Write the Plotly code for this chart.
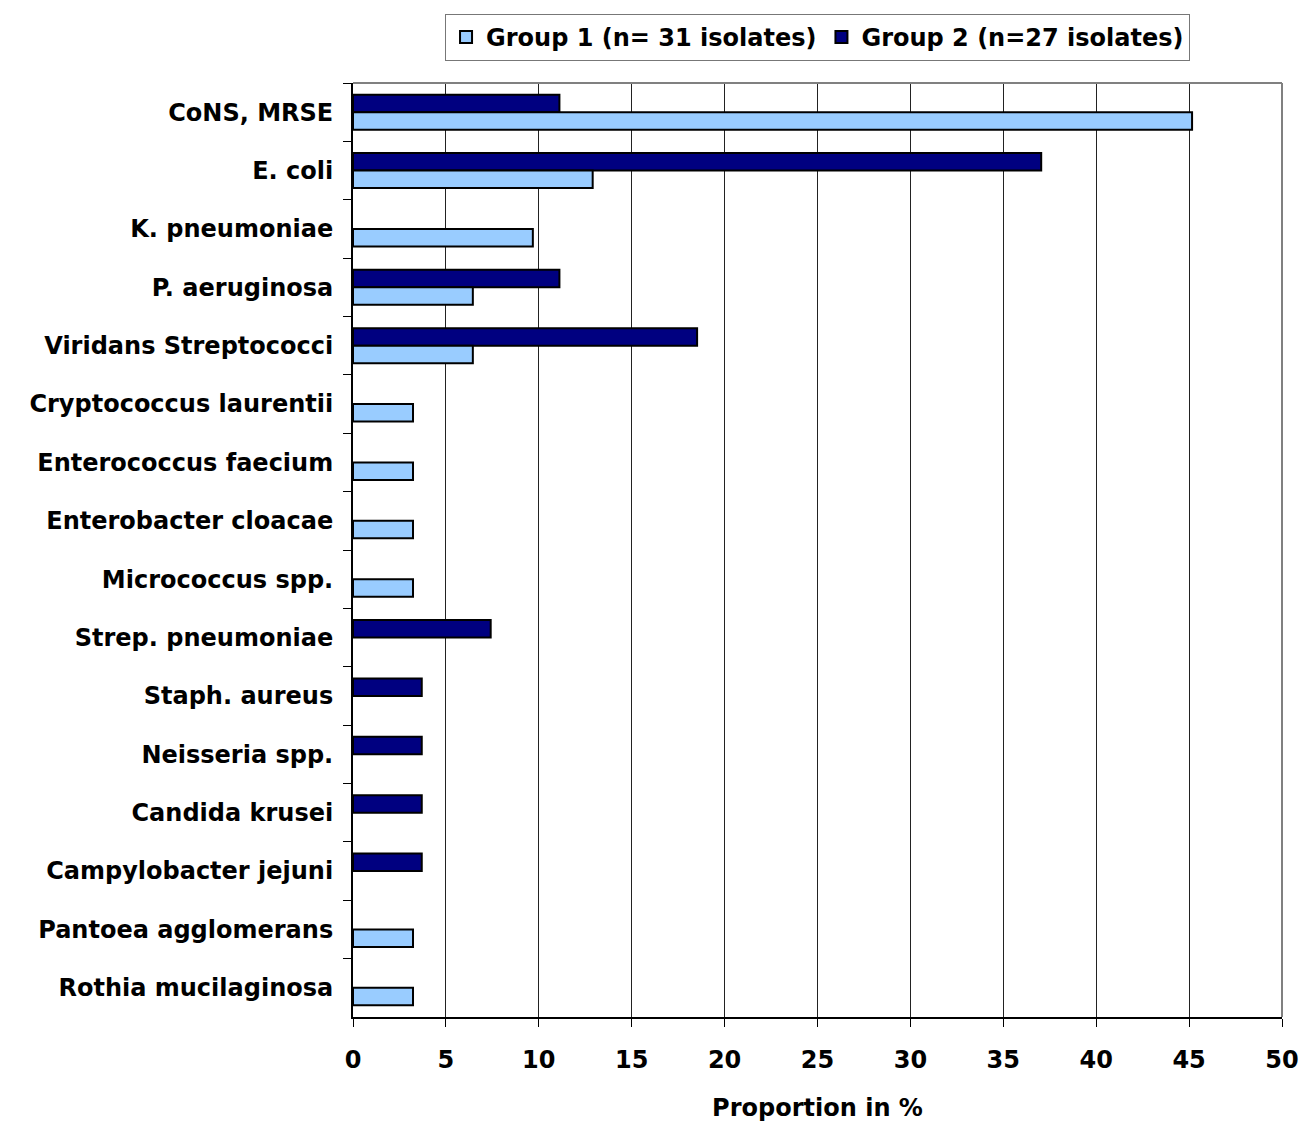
import plotly.graph_objects as go

categories = [
    "CoNS, MRSE", "E. coli", "K. pneumoniae", "P. aeruginosa", "Viridans Streptococci",
    "Cryptococcus laurentii", "Enterococcus faecium", "Enterobacter cloacae",
    "Micrococcus spp.", "Strep. pneumoniae", "Staph. aureus", "Neisseria spp.",
    "Candida krusei", "Campylobacter jejuni", "Pantoea agglomerans", "Rothia mucilaginosa",
]
group1 = [45.16, 12.90, 9.68, 6.45, 6.45, 3.23, 3.23, 3.23, 3.23, 0, 0, 0, 0, 0, 3.23, 3.23]
group2 = [11.11, 37.04, 0, 11.11, 18.52, 0, 0, 0, 0, 7.41, 3.70, 3.70, 3.70, 3.70, 0, 0]
x_ticks = [0, 5, 10, 15, 20, 25, 30, 35, 40, 45, 50]

FONT = "DejaVu Sans, Liberation Sans, Arial, sans-serif"
FS = 24


def nz(vals):
    return [v if v else None for v in vals]


fig = go.Figure()
fig.add_trace(go.Bar(
    y=categories, x=nz(group2), orientation="h", name="Group 2 (n=27 isolates)",
    marker=dict(color="#000080", line=dict(color="black", width=2)), legendrank=2,
))
fig.add_trace(go.Bar(
    y=categories, x=nz(group1), orientation="h", name="Group 1 (n= 31 isolates)",
    marker=dict(color="#99CCFF", line=dict(color="black", width=2)), legendrank=1,
))

fig.update_layout(
    width=1299, height=1114,
    margin=dict(l=345, r=25, t=75, b=105, autoexpand=False),
    plot_bgcolor="white", paper_bgcolor="white",
    barmode="group", bargap=0.4, bargroupgap=0,
    font=dict(family=FONT, size=FS, color="black", weight="bold"),
    legend=dict(
        orientation="h", xref="container", yref="container",
        x=0.6232, xanchor="center", y=0.9946, yanchor="top",
        bordercolor="#777777", borderwidth=1, font=dict(size=FS, family=FONT, weight="bold"),
        itemwidth=30, tracegroupgap=0,
    ),
    shapes=[
        dict(type="line", xref="paper", yref="paper", x0=0, x1=1, y0=1, y1=1,
             line=dict(color="#808080", width=2)),
        dict(type="line", xref="paper", yref="paper", x0=1, x1=1, y0=0, y1=1,
             line=dict(color="#808080", width=2)),
    ],
)
fig.update_xaxes(
    range=[0, 50], tickvals=x_ticks, ticks="outside", ticklen=8, tickcolor="black",
    showline=True, linecolor="black", linewidth=2, showgrid=True, gridcolor="#222222",
    gridwidth=1, zeroline=False, ticklabelstandoff=12, automargin=False,
    tickfont=dict(size=FS, family=FONT, weight="bold"),
    title=dict(text="Proportion in %", font=dict(size=FS, family=FONT, weight="bold"), standoff=26),
)
fig.update_yaxes(
    autorange="reversed", categoryorder="array", categoryarray=categories,
    ticks="outside", ticklen=8, tickcolor="black", tickson="boundaries",
    showline=True, linecolor="black", linewidth=2, showgrid=False, automargin=False,
    tickfont=dict(size=FS, family=FONT, weight="bold"), ticklabelstandoff=13,
)

fig.write_html("out.html")
